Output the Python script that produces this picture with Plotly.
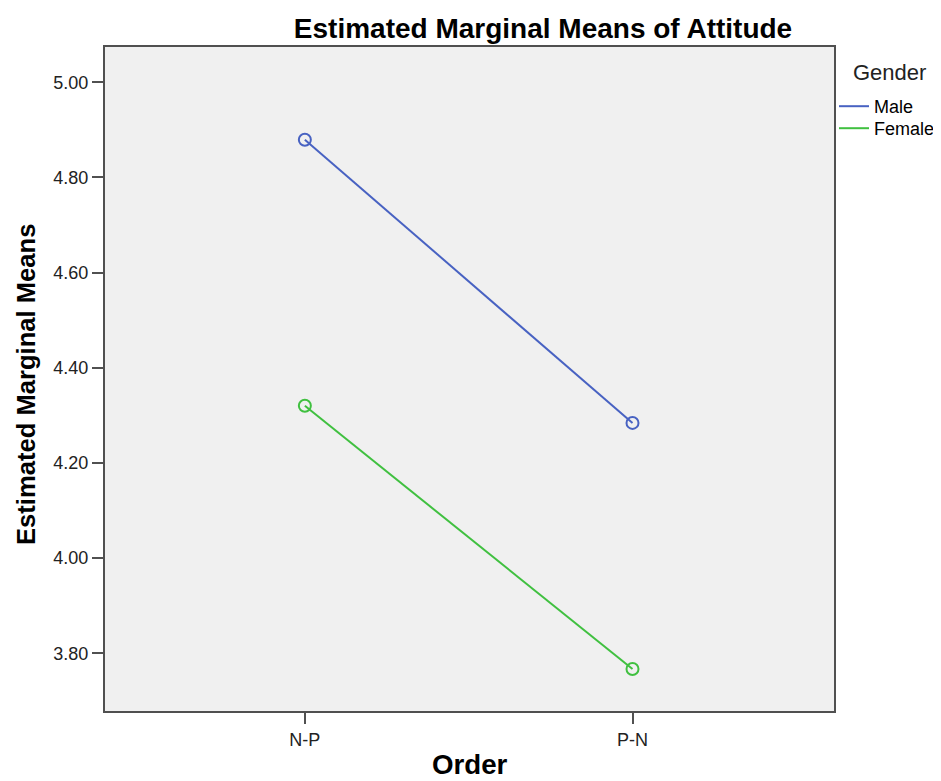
import plotly.graph_objects as go

orders = ["N-P", "P-N"]
male = [4.879, 4.284]
female = [4.320, 3.767]
y_ticks = [3.80, 4.00, 4.20, 4.40, 4.60, 4.80, 5.00]
y_tick_labels = ["3.80", "4.00", "4.20", "4.40", "4.60", "4.80", "5.00"]

FONT = "Liberation Sans, Arial, sans-serif"
BLUE = "#4862C2"
GREEN = "#40C040"

# page body has an 8px offset; figure coords = screen coords - 8
W, H = 933, 773
L, T = 97, 39
PR, PB = 826, 703          # plot right / bottom in figure px
R, B = W - PR, H - PB
PW, PH = PR - L, PB - T


def px(x):
    return (x - L) / PW


def py(y):
    return 1 - (y - T) / PH


fig = go.Figure()
series = [("Male", male, BLUE, "legend", 80), ("Female", female, GREEN, "legend2", 102)]
for name, vals, col, leg, _ in series:
    fig.add_trace(go.Scatter(
        x=[0, 1], y=vals, name=name, mode="lines+markers", showlegend=False,
        line=dict(color=col, width=2),
        marker=dict(symbol="circle-open", size=12, color=col, line=dict(width=2)),
    ))
    fig.add_trace(go.Scatter(
        x=[None], y=[None], name=name, mode="lines", legend=leg,
        line=dict(color=col, width=2), showlegend=True,
    ))

legend_style = dict(
    x=px(826), xanchor="left", yanchor="top",
    bgcolor="rgba(0,0,0,0)", font=dict(size=18, color="black", family=FONT),
    itemwidth=30,
)

fig.update_layout(
    width=W, height=H,
    margin=dict(l=L, r=R, t=T, b=B, autoexpand=False),
    paper_bgcolor="white",
    plot_bgcolor="#F0F0F0",
    font=dict(family=FONT, color="black"),
    title=dict(text="<b>Estimated Marginal Means of Attitude</b>",
               x=535 / W, xanchor="center", y=1 - 20 / H, yanchor="middle",
               font=dict(size=28, color="black", family=FONT)),
    showlegend=True,
    legend=dict(y=py(series[0][4]), **legend_style),
    legend2=dict(y=py(series[1][4]), **legend_style),
    annotations=[
        dict(text="Gender", xref="paper", yref="paper",
             x=px(843), xanchor="left", y=py(64), yanchor="middle",
             showarrow=False, font=dict(size=22, color="#222222", family=FONT)),
        dict(text="<b>Estimated Marginal Means</b>", xref="paper", yref="paper",
             x=px(18), xanchor="center", y=py(377), yanchor="middle", textangle=-90,
             showarrow=False, font=dict(size=25.6, color="black", family=FONT)),
        dict(text="<b>Order</b>", xref="paper", yref="paper",
             x=px(462), xanchor="center", y=py(756), yanchor="middle",
             showarrow=False, font=dict(size=27.7, color="black", family=FONT)),
    ],
    xaxis=dict(
        range=[-0.61, 1.615], tickmode="array", tickvals=[0, 1], ticktext=orders,
        showgrid=False, zeroline=False, automargin=False,
        showline=True, linecolor="#505050", linewidth=2, mirror=True,
        ticks="outside", ticklen=11, tickwidth=2, tickcolor="#505050",
        tickfont=dict(size=18, color="#222222"),
    ),
    yaxis=dict(
        range=[3.6786, 5.074], tickmode="array", tickvals=y_ticks, ticktext=y_tick_labels,
        showgrid=False, zeroline=False, automargin=False,
        showline=True, linecolor="#505050", linewidth=2, mirror=True,
        ticks="outside", ticklen=11, tickwidth=2, tickcolor="#505050",
        tickfont=dict(size=18, color="#222222"),
    ),
)

fig.write_html("out.html")
